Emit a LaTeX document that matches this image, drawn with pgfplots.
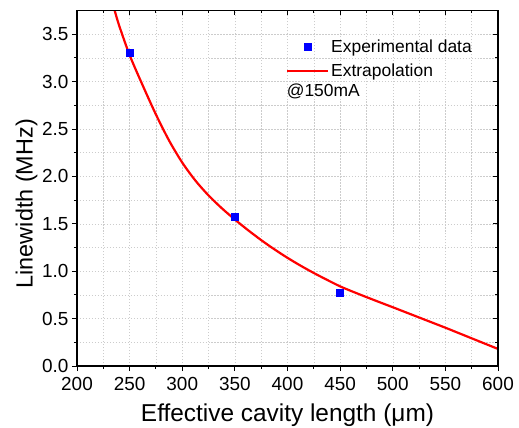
\documentclass[border=0pt]{standalone}
\usepackage{fontspec}
\setmainfont{Liberation Sans}
\usepackage{pgfplots}
\pgfplotsset{compat=1.18}
\pgfplotsset{
  legmark/.style={legend image code/.code={\draw[##1] plot coordinates {(20.5bp,0bp)};}},
  legline/.style={legend image code/.code={\draw[##1] (0bp,0bp) -- (41bp,0bp);}},
  common/.style={
    scale only axis, width=421bp, height=355.5bp,
    at={(0,0)}, anchor=south west,
    xmin=200, xmax=600, ymin=0, ymax=3.75,
    xtick={200,250,...,600}, ytick={0,0.5,...,3.5},
    minor x tick num=1, minor y tick num=1,
    major tick length=5bp, minor tick length=3bp,
    every tick/.style={black, line width=0.9pt},
    axis line style={black, line width=1.1pt, -},
    every outer x axis line/.append style={-},
    every outer y axis line/.append style={-},
  }
}
\begin{document}
\begin{tikzpicture}
\begin{axis}[common,
  axis x line*=bottom, axis y line*=left, tick align=outside,
  grid=both,
  major grid style={gray!40, line width=0.5pt, dash pattern=on 1.5pt off 1.5pt},
  minor grid style={gray!40, line width=0.5pt, dash pattern=on 1.5pt off 1.5pt},
  /pgf/number format/assume math mode=true,
  tick label style={font=\fontsize{19}{21}\selectfont},
  yticklabel style={/pgf/number format/.cd, fixed, fixed zerofill, precision=1},
  xticklabel style={yshift=-3bp, /pgf/number format/.cd, fixed, precision=0, set thousands separator={}},
  xlabel={Effective cavity length (μm)},
  ylabel={Linewidth (MHz)},
  xlabel style={font=\fontsize{24.5}{27}\selectfont, at={(axis description cs:0.5,-0.155)}, anchor=base},
  ylabel style={font=\fontsize{23.5}{26}\selectfont, at={(axis description cs:-0.1057,0.4565)}, anchor=base},
  legend style={draw=none, fill=none, at={(axis description cs:0.489,0.93)}, anchor=north west,
    font=\fontsize{17.5}{20}\selectfont, row sep=6bp},
  legend cell align=left,
]
\addplot[only marks, mark=square*, mark size=3.5bp, color=blue, legmark]
  coordinates {(250,3.30) (350,1.57) (450,0.77)};
\addlegendentry{Experimental data}
\addplot[red, line width=2.2bp, smooth, tension=0.5, legline]
  coordinates {
  (235.8,3.75) (240,3.593) (250,3.28) (262.5,2.958) (275,2.653) (287.5,2.378)
  (300,2.146) (312.5,1.956) (325,1.799) (337.5,1.665) (350,1.545) (362.5,1.433)
  (375,1.328) (387.5,1.231) (400,1.141) (412.5,1.058) (425,0.981) (437.5,0.909)
  (450,0.84) (462.5,0.782) (475,0.727) (487.5,0.673) (500,0.62) (512.5,0.566)
  (525,0.512) (537.5,0.458) (550,0.404) (562.5,0.348) (575,0.292) (587.5,0.236)
  (600,0.18)};
\addlegendentry{Extrapolation}
\node[anchor=west, font=\fontsize{17.5}{20}\selectfont, inner sep=0pt] at (rel axis cs:0.498,0.772) {@150mA};
\end{axis}
\begin{axis}[common,
  axis x line*=top, axis y line*=right, tick align=inside,
  xticklabels={}, yticklabels={},
]
\end{axis}
\pgfresetboundingbox
\path[use as bounding box] ([xshift=-77bp,yshift=-62bp]current axis.south west) rectangle ([xshift=21bp,yshift=10.5bp]current axis.north east);
\end{tikzpicture}
\end{document}
